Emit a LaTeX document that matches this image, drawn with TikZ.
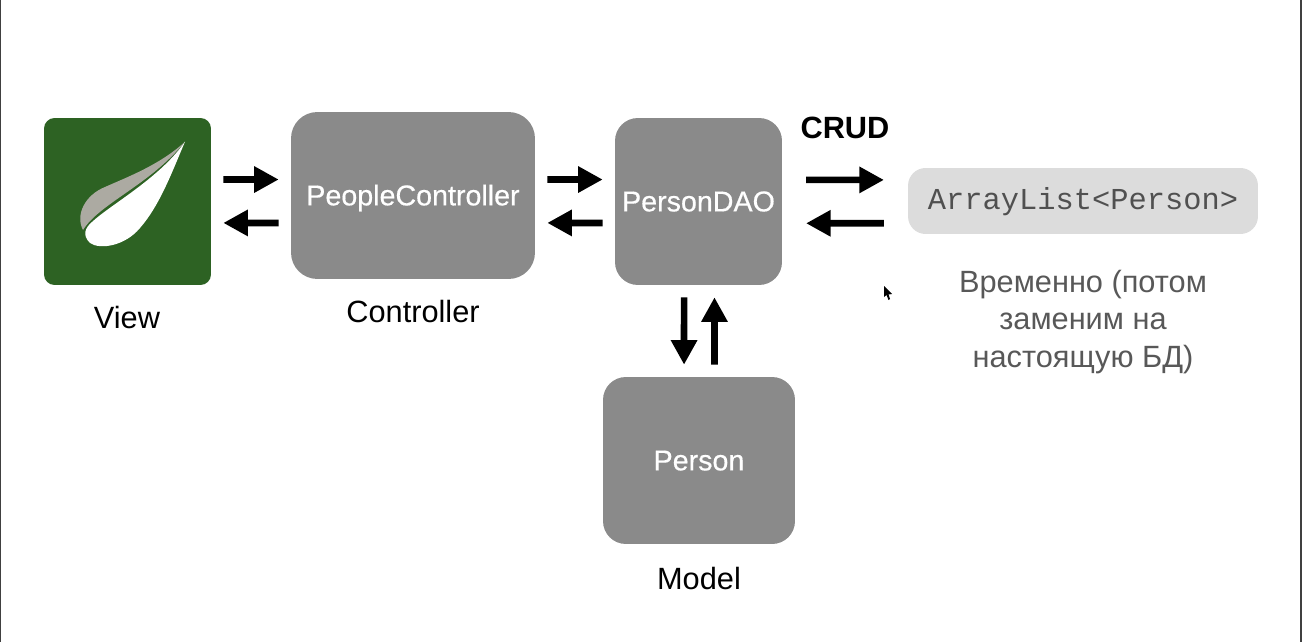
\documentclass[tikz,border=0pt]{standalone}
\usepackage{fontspec}
\setmainfont{Liberation Sans}
\setmonofont{Liberation Mono}
\newfontfamily\boxfont[FakeBold=0.5]{Liberation Sans}
\usetikzlibrary{arrows.meta}
\definecolor{box_gray}{RGB}{138,138,138}
\definecolor{list_gray}{RGB}{220,220,220}
\definecolor{note_gray}{RGB}{88,88,88}
\definecolor{mono_gray}{RGB}{80,80,80}
\definecolor{view_green}{RGB}{45,98,35}
\definecolor{leaf_gray}{RGB}{172,170,162}

\begin{document}
\begin{tikzpicture}[x=0.02cm,y=-0.02cm,line width=3.8pt,>={Triangle[length=14pt,width=14.2pt]}]
    \tikzstyle{box}=[fill=box_gray, text=white, inner sep=0pt, outer sep=0pt, text height=11.2pt, text depth=0pt, font=\boxfont\fontsize{16.3}{18}\selectfont]
    \tikzstyle{caption}=[text=black, inner sep=0pt, font=\fontsize{17.5}{21}\selectfont]
    \tikzstyle{short}=[shorten <=7pt, shorten >=7pt]
    \tikzstyle{long}=[shorten <=13.7pt, shorten >=13.7pt]

    \useasboundingbox (0,0) rectangle (1302,642);
    \fill[black!75] (0,0) rectangle (1.5,642);
    \fill[black!75] (1300,0) rectangle (1302,642);

    \node[box, fill=view_green, minimum width=3.34cm, minimum height=3.34cm, rounded corners=6pt] (view) at (127.5,201.5) {};
    \node[box, minimum width=4.88cm, minimum height=3.34cm, rounded corners=15pt] (controller) at (413,195.5) {PeopleController};
    \node[box, minimum width=3.34cm, minimum height=3.34cm, rounded corners=13pt] (dao) at (698.5,201.5) {PersonDAO};
    \node[box, minimum width=3.84cm, minimum height=3.34cm, rounded corners=13pt] (person) at (699,460.5) {Person};
    \node[fill=list_gray, text=mono_gray, inner sep=0pt, outer sep=0pt, minimum width=7cm, minimum height=1.32cm, rounded corners=10pt, text height=9.5pt, text depth=0pt, font=\fontsize{17.3}{20}\ttfamily] (list) at (1083,201) {ArrayList<Person>};

    \node[caption] (viewlabel) at (127,318) {View};
    \node[caption] (controllerlabel) at (413,312) {Controller};
    \node[caption] (modellabel) at (699,579) {Model};
    \node[caption, font=\fontsize{17.5}{21}\selectfont\bfseries] (crud) at (845,128) {CRUD};
    \node[caption, text=note_gray, align=center, font=\fontsize{17.5}{21.4}\selectfont] (note) at (1083,322) {Временно (потом\\заменим на\\настоящую БД)};

    % leaf
    \fill[leaf_gray] (185,141.7) .. controls (160,165) and (125,178) .. (105,187)
      .. controls (85,195) and (75,215) .. (83,230) .. controls (100,203) and (150,185) .. cycle;
    \fill[white] (185,141.7) .. controls (172,172) and (160,205) .. (140,228)
      .. controls (125,246) and (100,250) .. (90,243) .. controls (82,235) and (85,228) .. (92,222)
      .. controls (110,205) and (160,178) .. cycle;
    % cursor
    \fill[black] (884,286) -- (884,297) -- (886.5,295) -- (888.5,300) -- (890,299) -- (888.5,294.5) -- (892,294) -- cycle;

    \path[->]
     ([yshift=12.5pt]view.east) edge[short] ([yshift=9.1pt]controller.west)
     ([yshift=-15.6pt]controller.west) edge[short] ([yshift=-12.2pt]view.east)
     ([yshift=9.1pt]controller.east) edge[short] ([yshift=12.5pt]dao.west)
     ([yshift=-12.2pt]dao.west) edge[short] ([yshift=-15.6pt]controller.east)
     ([yshift=12.3pt]dao.east) edge[long] ([yshift=12pt]list.west)
     ([yshift=-12.7pt]list.west) edge[long] ([yshift=-12.4pt]dao.east)
     ([xshift=-8.2pt]dao.south) edge[short] ([xshift=-8.5pt]person.north)
     ([xshift=8.8pt]person.north) edge[short] ([xshift=9.1pt]dao.south)
     ;
  \end{tikzpicture}
\end{document}
